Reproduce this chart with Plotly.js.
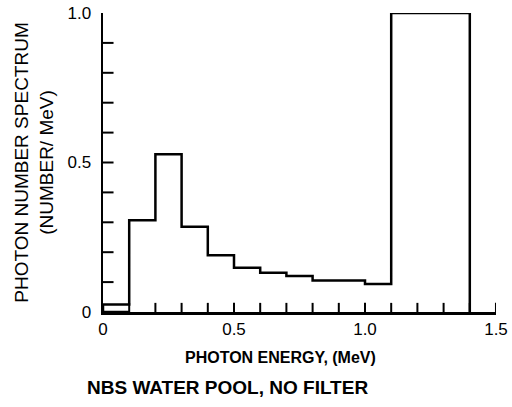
<!DOCTYPE html>
<html>
<head>
<meta charset="utf-8">
<script src="https://cdn.plot.ly/plotly-3.0.1.min.js"></script>
<style>html,body{margin:0;padding:0;background:#fff;}#chart{width:512px;height:407px;}</style>
</head>
<body>
<div id="chart"></div>
<script>
// Bin edges (MeV) and photon number spectrum (number / MeV) per bin
const binEdges = [0.0, 0.1, 0.2, 0.3, 0.4, 0.5, 0.6, 0.7, 0.8, 0.9, 1.0, 1.1, 1.4];
const photonSpectrum = [0.025, 0.307, 0.528, 0.285, 0.19, 0.148, 0.131, 0.12, 0.105, 0.105, 0.094, 1.0];

// Axis tick values (labelled) and minor tick values (unlabelled)
const xTickVals = [0, 0.5, 1.0, 1.5];
const xTickText = ["0", "0.5", "1.0", "1.5"];
const yTickVals = [0, 0.5, 1.0];
const yTickText = ["0", "0.5", "1.0"];
const xMinorTicks = [0.1, 0.2, 0.3, 0.4, 0.5, 0.6, 0.7, 0.8, 0.9, 1.0, 1.1, 1.2, 1.3, 1.4, 1.5];
const yMinorTicks = [0.1, 0.2, 0.3, 0.4, 0.5, 0.6, 0.7, 0.8, 0.9];

const xTitle = "PHOTON ENERGY, (MeV)";
const yTitle = "PHOTON NUMBER SPECTRUM<br>(NUMBER/ MeV)";
const caption = "NBS WATER POOL, NO FILTER";

const xRange = [0, 1.5];
const yRange = [0, 1.0];
const edgeInset = 1e-4; // keeps tick markers just inside the range so they are not culled

// Build histogram outline from bins
const xs = [binEdges[0]];
const ys = [0];
for (let i = 0; i < photonSpectrum.length; i++) {
  xs.push(binEdges[i]);
  ys.push(photonSpectrum[i]);
}
xs.push(binEdges[binEdges.length - 1]);
ys.push(photonSpectrum[photonSpectrum.length - 1]);
xs.push(binEdges[binEdges.length - 1]);
ys.push(0);
const firstBinX = [binEdges[0], binEdges[1]];
const firstBinY = [0, 0];

const font = "Liberation Sans, Arial, sans-serif";

const traces = [
  {x: xs, y: ys, type: "scatter", mode: "lines", line: {shape: "hv", color: "#000", width: 2.5}, hoverinfo: "skip"},
  {x: firstBinX, y: firstBinY, type: "scatter", mode: "lines", line: {color: "#000", width: 2.5}, hoverinfo: "skip"},
  // inward tick marks, half of each marker clipped away by the plot edge
  {x: xMinorTicks.map(v => Math.min(v, xRange[1] - edgeInset)), y: xMinorTicks.map(() => yRange[0] + edgeInset),
   type: "scatter", mode: "markers", hoverinfo: "skip",
   marker: {symbol: "line-ns", size: 13, color: "#000", line: {color: "#000", width: 2}}},
  {x: yMinorTicks.map(() => xRange[0] + edgeInset), y: yMinorTicks, type: "scatter", mode: "markers", hoverinfo: "skip",
   marker: {symbol: "line-ew", size: 15, color: "#000", line: {color: "#000", width: 2}}}
];

const layout = {
  width: 512, height: 407,
  margin: {l: 103, r: 16, t: 13, b: 94.5},
  showlegend: false,
  font: {family: font, color: "#000"},
  xaxis: {
    range: xRange, showgrid: false, zeroline: false,
    showline: true, linecolor: "#000", linewidth: 2.5,
    tickmode: "array", tickvals: xTickVals, ticktext: xTickText, ticks: "",
    ticklabelstandoff: 0, tickfont: {size: 17, family: font}
  },
  yaxis: {
    range: yRange, showgrid: false, zeroline: false,
    showline: true, linecolor: "#000", linewidth: 2.5,
    tickmode: "array", tickvals: yTickVals, ticktext: yTickText, ticks: "",
    ticklabelstandoff: 6, tickfont: {size: 17, family: font},
    title: {text: yTitle, font: {size: 19, family: font}, standoff: 9}
  },
  annotations: [
    {text: xTitle, xref: "paper", yref: "paper", x: (280 - 103) / 393, y: -(358 - 312.5) / 299.5, xanchor: "center", yanchor: "middle",
     showarrow: false, font: {size: 16, family: font, color: "#000", weight: "bold"}},
    {text: caption, xref: "paper", yref: "paper", x: (85 - 103) / 393, y: -(388 - 312.5) / 299.5, xanchor: "left", yanchor: "middle",
     showarrow: false, font: {size: 19, family: font, color: "#000", weight: "bold"}}
  ]
};

Plotly.newPlot("chart", traces, layout, {displayModeBar: false, staticPlot: true});
</script>
</body>
</html>
